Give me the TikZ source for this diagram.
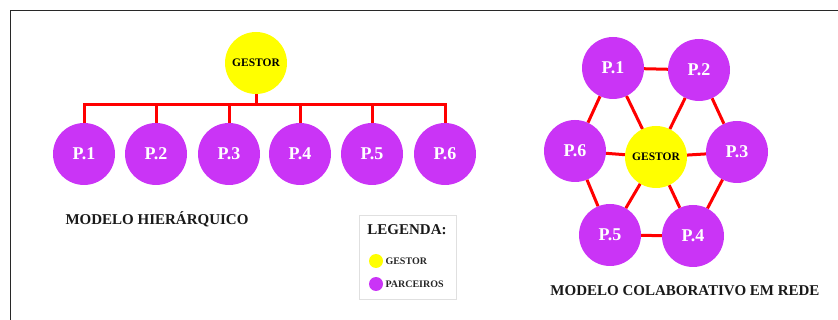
\documentclass[tikz,border=0pt]{standalone}
\usepackage{fontspec}
\setmainfont{Liberation Serif}
\definecolor{partner}{RGB}{202,52,246}
\definecolor{manager}{RGB}{255,255,0}
\definecolor{link}{RGB}{255,0,0}
\definecolor{frame}{RGB}{40,40,40}
\begin{document}
\begin{tikzpicture}[x=1pt,y=-1pt,
  partnerc/.style={circle,fill=partner,minimum size=62pt,inner sep=0pt,
    text=white,font=\fontsize{18}{18}\selectfont\bfseries},
  managerc/.style={circle,fill=manager,minimum size=62pt,inner sep=0pt,
    text=black,font=\fontsize{11.5}{11.5}\selectfont\bfseries},
  wire/.style={draw=link,line width=3pt},
  caption/.style={font=\fontsize{15}{15}\selectfont\bfseries,text=black!90},
  keydot/.style={circle,minimum size=14pt,inner sep=0pt},
  keytext/.style={anchor=west,font=\fontsize{10}{10}\selectfont\bfseries,text=black!85}]
\useasboundingbox (0,0) rectangle (838,320);
\begin{scope}
\clip (0,0) rectangle (838,320);
\draw[frame,line width=1pt] (10,11) rectangle (850,330);
\end{scope}

% hierarchical model
\node[managerc] (hg) at (256,63) {GESTOR};
\foreach \i/\x in {1/84,2/156,3/229,4/300,5/372,6/445}
  \node[partnerc] (h\i) at (\x,154) {P.\i};
\coordinate (bar) at (256,105);
\draw[wire] (hg.south) -- (bar);
\draw[wire] (h1.north) -- (h1.north |- bar) -- (h6.north |- bar) -- (h6.north);
\foreach \i in {2,3,4,5}
  \draw[wire] (h\i.north) -- (h\i.north |- bar);
\node[caption] (hcap) at (157,219) {MODELO HIERÁRQUICO};

% legend
\node[draw=black!12,line width=1pt,minimum width=97pt,minimum height=84pt,inner sep=0pt] (key) at (407.5,257.5) {};
\node[font=\fontsize{15}{15}\selectfont\bfseries,text=black!90] (keytitle) at (407,230) {LEGENDA:};
\node[keydot,fill=manager] (k1) at (376,261) {};
\node[keytext] (k1t) at (382,261) {GESTOR};
\node[keydot,fill=partner] (k2) at (376,284) {};
\node[keytext] (k2t) at (382,284) {PARCEIROS};

% collaborative network model
\node[managerc] (ng) at (656,157) {GESTOR};
\node[partnerc] (n1) at (613,68) {P.1};
\node[partnerc] (n2) at (699,70) {P.2};
\node[partnerc] (n3) at (737,152) {P.3};
\node[partnerc] (n4) at (693,236) {P.4};
\node[partnerc] (n5) at (610,235) {P.5};
\node[partnerc] (n6) at (575,151) {P.6};
\foreach \a/\b in {n1/n2,n2/n3,n3/n4,n4/n5,n5/n6,n6/n1}
  \draw[wire] (\a) -- (\b);
\foreach \b in {n1,n2,n3,n4,n5,n6}
  \draw[wire] (ng) -- (\b);
\node[caption] (ncap) at (685,291) {MODELO COLABORATIVO EM REDE};
\end{tikzpicture}
\end{document}
